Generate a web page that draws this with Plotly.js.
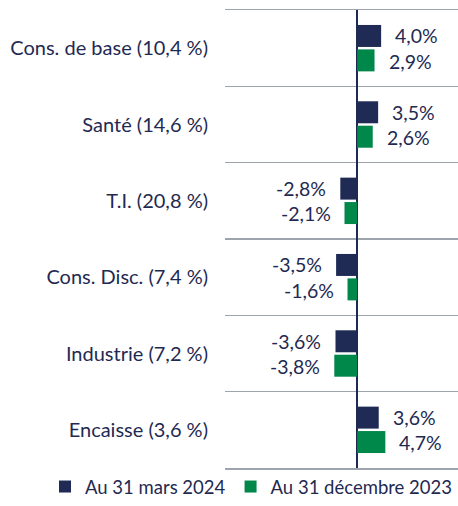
<!DOCTYPE html>
<html><head><meta charset="utf-8">
<script src="https://cdn.plot.ly/plotly-3.0.1.min.js"></script>
<style>html,body{margin:0;padding:0;background:#fff}</style>
</head><body><div id="chart" style="width:458px;height:506px"></div>
<script>
const categories = ["Cons. de base (10,4 %)", "Santé (14,6 %)", "T.I. (20,8 %)", "Cons. Disc. (7,4 %)", "Industrie (7,2 %)", "Encaisse (3,6 %)"];
const seriesNames = ["Au 31 mars 2024", "Au 31 décembre 2023"];
const mars2024 = [4.0, 3.5, -2.8, -3.5, -3.6, 3.6];
const dec2023 = [2.9, 2.6, -2.1, -1.6, -3.8, 4.7];
const colors = ["#1f2a55", "#00874a"];
const textColor = "#1f2a52";
const font = "Lato, 'Open Sans', sans-serif";

function fmt(v){ return v.toFixed(1).replace('.', ',') + '%'; }

const traces = [mars2024, dec2023].map((vals, i) => ({
  type: 'bar', orientation: 'h', name: seriesNames[i],
  x: vals, y: categories, marker: {color: colors[i]},
  hoverinfo: 'skip'
}));

const annotations = [];
[mars2024, dec2023].forEach((vals, i) => {
  vals.forEach((v, j) => {
    annotations.push({
      x: v, y: j + (i === 0 ? -0.16 : 0.17), xref: 'x', yref: 'y',
      text: fmt(v), showarrow: false,
      xanchor: v >= 0 ? 'left' : 'right',
      xshift: v >= 0 ? 12 : -12,
      font: {family: font, size: 19.5, color: textColor}
    });
  });
});

const layout = {
  width: 458, height: 506,
  margin: {l: 225, r: 0, t: 10, b: 34},
  barmode: 'group', bargap: 0.36, bargroupgap: 0.1,
  showlegend: true,
  legend: {orientation: 'h', x: -0.668, y: 0, xanchor: 'left', yanchor: 'top',
           font: {family: font, size: 18.5, color: textColor}, itemwidth: 30, traceorder: 'normal',
           tracegroupgap: 0, bgcolor: 'rgba(0,0,0,0)'},
  xaxis: {range: [-22, 16.8], showgrid: false, showticklabels: false, zeroline: true,
          zerolinecolor: '#1f2a52', zerolinewidth: 2, fixedrange: true,
          showline: true, mirror: true, linecolor: '#9ea4ad', linewidth: 1.5},
  yaxis: {type: 'category', autorange: 'reversed', tickson: 'boundaries', showgrid: true,
          gridcolor: '#9ea4ad', gridwidth: 1.5, ticks: '', ticklabelstandoff: 16,
          tickfont: {family: font, size: 20, color: textColor}, showline: false},
  annotations: annotations,
  plot_bgcolor: '#fff', paper_bgcolor: '#fff'
};
Plotly.newPlot('chart', traces, layout, {displayModeBar: false, staticPlot: true});
</script></body></html>
